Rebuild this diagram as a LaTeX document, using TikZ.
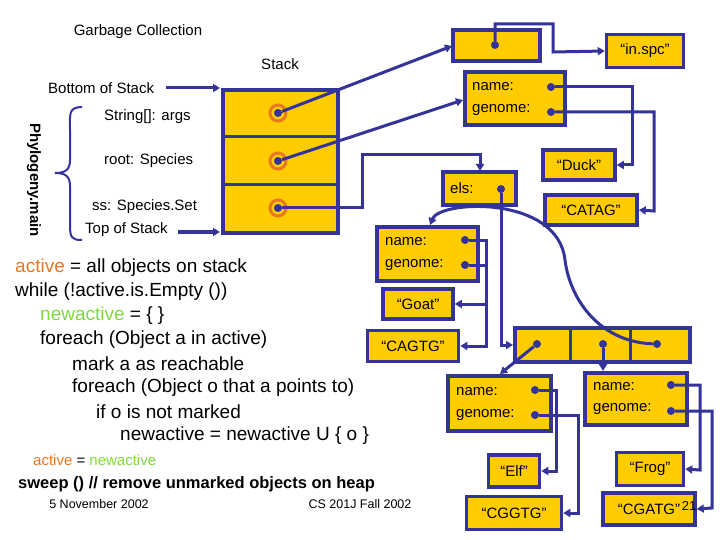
\documentclass[tikz,border=0pt]{standalone}
\usepackage{fontspec}
\setmainfont{Liberation Sans}
\usetikzlibrary{arrows.meta}
\definecolor{nv}{HTML}{333399}
\definecolor{yl}{HTML}{FFCC00}
\definecolor{orn}{HTML}{E87722}
\definecolor{grn}{HTML}{7FD840}
\begin{document}
\begin{tikzpicture}[x=1pt,y=-1pt,
 box/.style={draw=nv,fill=yl,line width=3.5pt},
 wire/.style={draw=nv,line width=3pt},
 arr/.style={wire,-{Triangle[length=7pt,width=8pt]}},
 dot/.style={circle,fill=nv,inner sep=0pt,minimum size=8pt},
 lbl/.style={font=\fontsize{15}{15}\selectfont,inner sep=0pt},
 code/.style={font=\fontsize{19}{19}\selectfont,inner sep=0pt,anchor=west}]
\useasboundingbox (0,0) rectangle (720,540);
% titles
\node[lbl] (gc) at (138,32) {Garbage Collection};
\node[lbl] (st) at (280,64) {Stack};
\node[lbl,anchor=west] (bos) at (48,88) {Bottom of Stack};
\node[lbl,anchor=west] (tos) at (85,230) {Top of Stack};
% stack
\draw[box] (223,90) rectangle (338,233);
\draw[wire] (223,137) -- (338,137) (223,185) -- (338,185);
\draw[arr] (bos.east)++(12,0) coordinate (b1) -- (220,88);
\draw[arr] (tos.east)++(10,2) coordinate (t1) -- (220,232);
\node[lbl,anchor=west] (s1) at (104,117) {String[]: args};
\node[lbl,anchor=west] (s2) at (104,161) {root: Species};
\node[lbl,anchor=west] (s3) at (92,207) {ss: Species.Set};
\foreach \n/\y in {r1/113,r2/161,r3/208}{
 \draw[orn,line width=3pt] (278,\y) circle (8);
 \node[dot] (\n) at (278,\y) {};}
% brace
\draw[nv,line width=2pt] (82,107) .. controls (68,107) and (70,115) .. (70,130) -- (70,160) .. controls (70,170) and (65,173) .. (55,173) .. controls (65,173) and (70,176) .. (70,186) -- (70,225) .. controls (70,238) and (72,240) .. (82,240);
\node[lbl,font=\bfseries\fontsize{15}{15}\selectfont,rotate=-90] (pm) at (34,180) {Phylogeny.main};
% top box
\draw[box] (453,30) rectangle (540,61); \node[dot] (tb) at (495,45) {};
\node[box,lbl,minimum width=77pt,minimum height=33pt] (spc) at (645,51) {“in.spc”};
\draw[arr] (tb) -- (495,24) -- (553,24) -- (553,52) -- (spc.west);
\draw[arr] (r1) -- (452,46);
% species root
\draw[box] (465,72) rectangle (565,125);
\node[lbl,anchor=west] at (472,87) {name:};
\node[lbl,anchor=west] at (472,110) {genome:};
\node[dot] (n1) at (551,87) {}; \node[dot] (g1) at (551,112) {};
\draw[arr] (r2) -- (463,100);
\node[box,lbl,minimum width=72pt,minimum height=30pt] (duck) at (579,165) {“Duck”};
\node[box,lbl,minimum width=92pt,minimum height=30pt] (catag) at (591,210) {“CATAG”};
\draw[arr] (n1) -- (632,87) -- (632,165) -- (duck.east);
\draw[arr] (g1) -- (654,112) -- (654,211) -- (catag.east);
% els
\draw[box] (443,172) rectangle (516,205);
\node[lbl,anchor=west] at (450,188) {els:};
\node[dot] (els) at (501,189) {};
\draw[arr] (r3) -- (362,208) -- (362,155) -- (480,155) -- (480,171);
% array
\draw[box] (515,328) rectangle (690,362);
\draw[wire] (570,328) -- (570,362) (630,328) -- (630,362);
\node[dot] (c1) at (537,344) {}; \node[dot] (c2) at (603,344) {}; \node[dot] (c3) at (657,344) {};
\draw[arr] (els) -- (501,345) -- (513,345);
% goat
\draw[box] (377,227) rectangle (478,281);
\node[lbl,anchor=west] at (385,242) {name:};
\node[lbl,anchor=west] at (385,265) {genome:};
\node[dot] (n2) at (465,240) {}; \node[dot] (g2) at (465,265) {};
\node[box,lbl,minimum width=70pt,minimum height=30pt] (goat) at (418,304) {“Goat”};
\node[box,lbl,minimum width=91pt,minimum height=31pt] (cagtg) at (413,346) {“CAGTG”};
\draw[arr] (n2) -- (486,240) -- (486,304) -- (goat.east);
\draw[wire] (g2) -- (486,265);
\draw[arr] (486,300) -- (486,346) -- (cagtg.east);
\draw[arr] (c3) .. controls (600,342) and (570,300) .. (565,260) .. controls (558,195) and (440,200) .. (430,225);
% elf
\draw[box] (448,376) rectangle (551,431);
\node[lbl,anchor=west] at (456,392) {name:};
\node[lbl,anchor=west] at (456,415) {genome:};
\node[dot] (n3) at (535,390) {}; \node[dot] (g3) at (535,415) {};
\draw[arr] (c1) -- (500,374);
\node[box,lbl,minimum width=51pt,minimum height=32pt] (elf) at (514,471) {“Elf”};
\node[box,lbl,minimum width=95pt,minimum height=33pt] (cggtg) at (514,513) {“CGGTG”};
\draw[arr] (n3) -- (556,390) -- (556,471) -- (elf.east);
\draw[arr] (g3) -- (578,415) -- (578,513) -- (cggtg.east);
% frog
\draw[box] (585,373) rectangle (687,425);
\node[lbl,anchor=west] at (593,387) {name:};
\node[lbl,anchor=west] at (593,409) {genome:};
\node[dot] (n4) at (671,385) {}; \node[dot] (g4) at (671,411) {};
\draw[arr] (c2) -- (603,371);
\node[box,lbl,minimum width=67pt,minimum height=33pt] (frog) at (650,469) {“Frog”};
\node[box,lbl,minimum width=92pt,minimum height=32pt] (cgatg) at (649,509) {“CGATG”};
\draw[arr] (n4) -- (700,385) -- (700,470) -- (frog.east);
\draw[arr] (g4) -- (712,411) -- (712,508) -- (cgatg.east);
\node[lbl,font=\fontsize{13}{13}\selectfont] (pg) at (689,506) {21};
% code
\node[code] (l1) at (15,268) {\textcolor{orn}{active} = all objects on stack};
\node[code] (l2) at (15,292) {while (!active.is.Empty ())};
\node[code] (l3) at (40,316) {\textcolor{grn}{newactive} = \{ \}};
\node[code] (l4) at (40,340) {foreach (Object a in active)};
\node[code] (l5) at (72,364) {mark a as reachable};
\node[code] (l6) at (72,388) {foreach (Object o that a points to)};
\node[code] (l7) at (96,412) {if o is not marked};
\node[code] (l8) at (120,436) {newactive = newactive U \{ o \}};
\node[code,font=\fontsize{15}{15}\selectfont] (l9) at (33,460) {\textcolor{orn}{active} = \textcolor{grn}{newactive}};
\node[code,font=\bfseries\fontsize{16.5}{16.5}\selectfont] (l10) at (18,484) {sweep () // remove unmarked objects on heap};
\node[lbl,font=\fontsize{12.5}{12.5}\selectfont] (d1) at (99,504) {5 November 2002};
\node[lbl,font=\fontsize{12.5}{12.5}\selectfont] (d2) at (360,504) {CS 201J Fall 2002};
\end{tikzpicture}
\end{document}
